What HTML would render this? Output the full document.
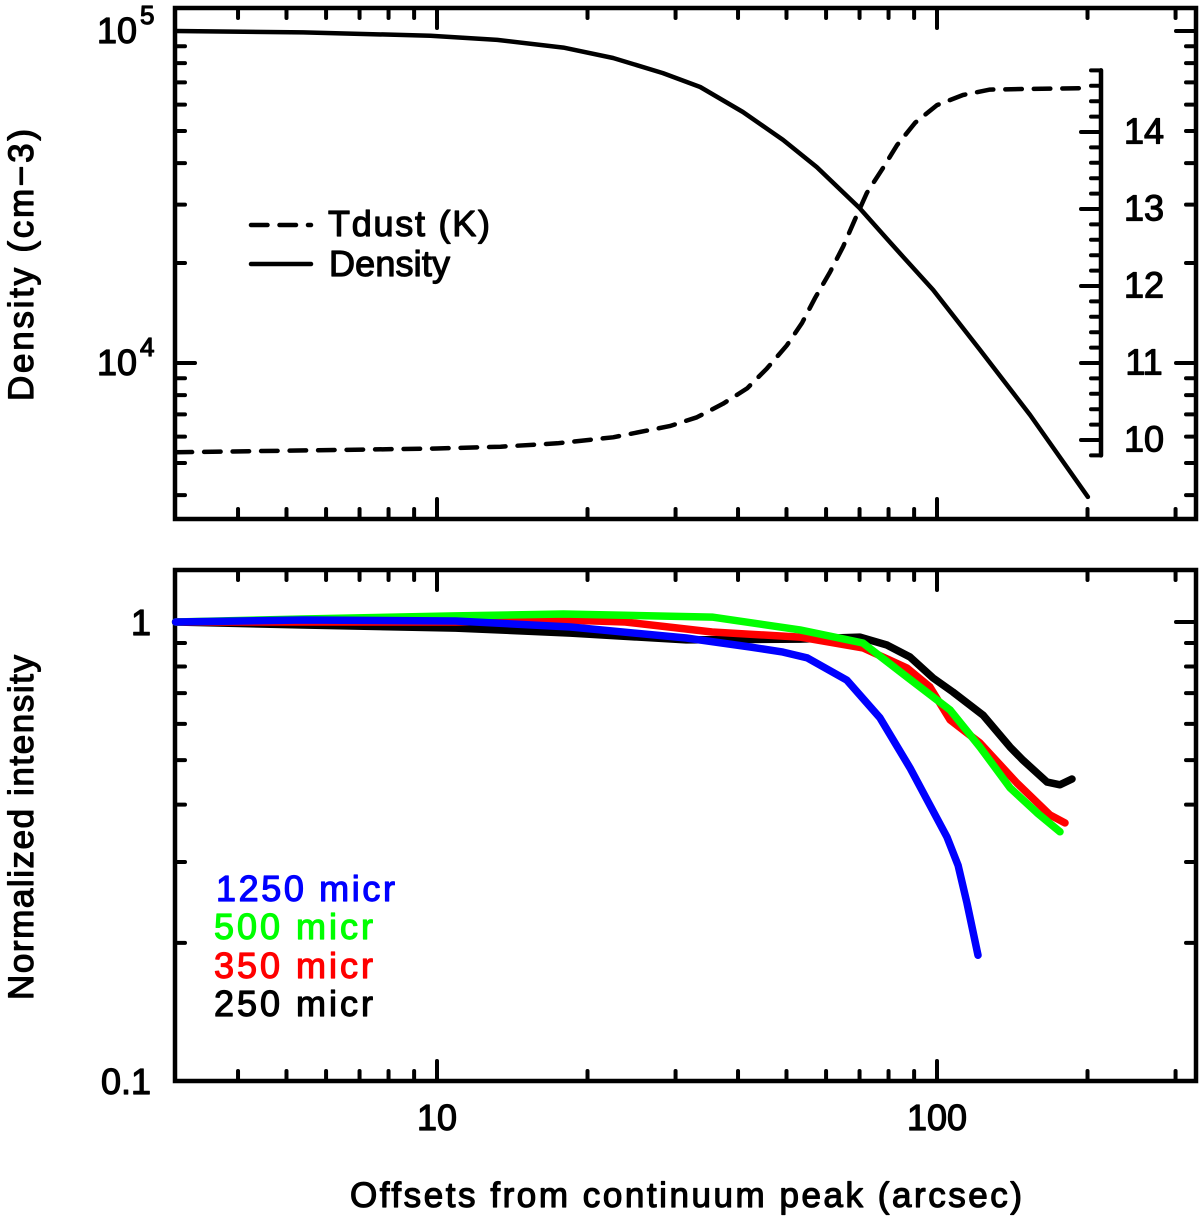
<!DOCTYPE html>
<html lang="en">
<head>
<meta charset="utf-8">
<title>Density, dust temperature and normalized intensity profiles</title>
<style>
html,body{margin:0;padding:0;background:#fff;}
svg{display:block;}
text{font-family:"Liberation Sans","DejaVu Sans",sans-serif;stroke-width:1.2px;stroke-linejoin:round;}
</style>
</head>
<body>
<svg id="chart" xmlns="http://www.w3.org/2000/svg" width="1200" height="1218" viewBox="0 0 1200 1218"></svg>
<script>
// ---- Upper panel data ----
const densityOffsets = [3, 5.4, 9.7, 13.2, 17.9, 22.5, 28.3, 33.6, 40.9, 49.2, 57.5, 70, 84.3, 98.2, 121.9, 153.5, 200.4];
const densityValues = [100000, 99000, 96800, 94000, 89100, 82900, 74700, 67800, 57000, 47000, 38900, 29300, 21400, 16600, 10950, 6970, 3950];
const tdustOffsets = [3, 10, 13.4, 17.4, 22.5, 29.2, 33.1, 37.3, 41.7, 45.7, 50.1, 53.7, 57, 61.1, 64.9, 68.5, 72.4, 77.6, 83.2, 90.4, 100, 112.7, 127.6, 153.5, 200.4];
const tdustValues = [9.84, 9.89, 9.913, 9.957, 10.035, 10.18, 10.295, 10.47, 10.67, 10.93, 11.23, 11.52, 11.84, 12.18, 12.51, 12.86, 13.21, 13.51, 13.83, 14.12, 14.35, 14.48, 14.55, 14.56, 14.57];
const densityMajorTicks = [100000, 10000];
const densityMinorTicks = [90000, 80000, 70000, 60000, 50000, 40000, 30000, 20000, 9000, 8000, 7000, 6000, 5000, 4000];
const densityTickLabels = [["10", "5"], ["10", "4"]];
const tdustMajorTicks = [10, 11, 12, 13, 14];
const tdustMinorTicks = [9.8, 10.2, 10.4, 10.6, 10.8, 11.2, 11.4, 11.6, 11.8, 12.2, 12.4, 12.6, 12.8, 13.2, 13.4, 13.6, 13.8, 14.2, 14.4, 14.6, 14.8];

// ---- Lower panel data ----
const offsetMajorTicks = [10, 100];
const offsetMinorTicks = [4, 5, 6, 7, 8, 9, 20, 30, 40, 50, 60, 70, 80, 90, 200, 300];
const intensityMajorTicks = [1, 0.1];
const intensityMinorTicks = [0.9, 0.8, 0.7, 0.6, 0.5, 0.4, 0.3, 0.2];
const intensityTickLabels = ["1", "0.1"];

const offsets250 = [3, 5.4, 10.9, 18.5, 31.5, 53.2, 70.1, 79.4, 88.3, 98.2, 107.6, 123.6, 140, 148.6, 166, 176.2, 186.2];
const values250 = [1, 0.985, 0.97, 0.946, 0.914, 0.918, 0.927, 0.891, 0.839, 0.755, 0.704, 0.627, 0.534, 0.5, 0.448, 0.442, 0.455];
const offsets350 = [3, 5.4, 10.9, 17.9, 23.8, 35.5, 53.2, 71.1, 87.1, 96.8, 106.2, 121.9, 144.5, 168.3, 180.3];
const values350 = [1, 1.0, 1.0, 1.01, 1.0, 0.951, 0.927, 0.878, 0.794, 0.722, 0.612, 0.545, 0.446, 0.38, 0.365];
const offsets500 = [3, 5.4, 10.9, 17.9, 35.5, 53.2, 71.1, 87.1, 106.2, 121.9, 140, 158.5, 176.2];
const values500 = [1, 1.015, 1.031, 1.041, 1.025, 0.961, 0.9, 0.759, 0.643, 0.534, 0.435, 0.384, 0.349];
const offsets1250 = [3, 5.4, 10.9, 18.5, 31.5, 42.3, 49.2, 55, 66, 76.9, 88.3, 104.7, 110.2, 114.8, 120.8];
const values1250 = [1, 1.01, 1.005, 0.975, 0.923, 0.882, 0.86, 0.835, 0.747, 0.618, 0.481, 0.34, 0.295, 0.244, 0.188];

const intensityLegend = ["1250 micr", "500 micr", "350 micr", "250 micr"];

// ---- Axis functions ----
const svg = document.getElementById('chart');
const NS = 'http://www.w3.org/2000/svg';
const xScale = v => 437 + (Math.log10(v) - 1) * 500;
const yDensity = v => 363 - (Math.log10(v) - 4) * 332;
const yTdust = v => 440 - (v - 10) * 77;
const yIntensity = v => 622 - Math.log10(v) * 459;

function line(x1, y1, x2, y2, w) {
  const el = document.createElementNS(NS, 'line');
  el.setAttribute('x1', x1);
  el.setAttribute('y1', y1);
  el.setAttribute('x2', x2);
  el.setAttribute('y2', y2);
  el.setAttribute('stroke', '#000');
  el.setAttribute('stroke-width', w);
  el.setAttribute('stroke-linecap', 'round');
  svg.appendChild(el);
  return el;
}
function text(str, x, y, size, opts) {
  const o = opts || {};
  const el = document.createElementNS(NS, 'text');
  el.setAttribute('x', x);
  el.setAttribute('y', y);
  el.setAttribute('font-size', size);
  el.setAttribute('fill', o.fill || '#000');
  el.setAttribute('stroke', o.fill || '#000');
  el.setAttribute('text-anchor', o.anchor || 'start');
  el.setAttribute('xml:space', 'preserve');
  if (o.length) {
    el.setAttribute('textLength', o.length);
    el.setAttribute('lengthAdjust', 'spacing');
  }
  if (o.rotate) el.setAttribute('transform', 'rotate(-90 ' + x + ' ' + y + ')');
  el.textContent = str;
  svg.appendChild(el);
  return el;
}
function curve(xs, ys, sx, sy, color, w, dash) {
  const el = document.createElementNS(NS, 'polyline');
  el.setAttribute('points', xs.map((v, i) => sx(v).toFixed(1) + ',' + sy(ys[i]).toFixed(1)).join(' '));
  el.setAttribute('fill', 'none');
  el.setAttribute('stroke', color);
  el.setAttribute('stroke-width', w);
  el.setAttribute('stroke-linejoin', 'round');
  el.setAttribute('stroke-linecap', 'round');
  if (dash) el.setAttribute('stroke-dasharray', dash);
  svg.appendChild(el);
  return el;
}
function frame(top, bottom) {
  const el = document.createElementNS(NS, 'rect');
  el.setAttribute('x', 175);
  el.setAttribute('y', top);
  el.setAttribute('width', 1021);
  el.setAttribute('height', bottom - top);
  el.setAttribute('fill', 'none');
  el.setAttribute('stroke', '#000');
  el.setAttribute('stroke-width', 4.5);
  svg.appendChild(el);
  return el;
}
function xTicks(top, bottom, panel) {
  offsetMajorTicks.forEach(v => {
    const a = line(xScale(v), bottom, xScale(v), bottom - 20, 4);
    
    
    const b = line(xScale(v), top, xScale(v), top + 20, 4);
    
    
  });
  offsetMinorTicks.forEach(v => {
    const a = line(xScale(v), bottom, xScale(v), bottom - 10, 4);
    
    
    const b = line(xScale(v), top, xScale(v), top + 10, 4);
    
    
  });
}
function yTicks(majors, minors, sy, panel) {
  majors.forEach(v => {
    const a = line(175, sy(v), 195, sy(v), 4);
    
    
    const b = line(1196, sy(v), 1176, sy(v), 4);
    
    
  });
  minors.forEach(v => {
    const a = line(175, sy(v), 185, sy(v), 4);
    
    
    const b = line(1196, sy(v), 1186, sy(v), 4);
    
    
  });
}

// ---- Upper panel ----
const frameTop = frame(8, 519);


xTicks(8, 519, 'density');
yTicks(densityMajorTicks, densityMinorTicks, yDensity, 'density');

densityMajorTicks.forEach((v, i) => {
  const base = text(densityTickLabels[i][0], 137, yDensity(v) + 12, 36, {anchor: 'end'});
  
  
  const sup = text(densityTickLabels[i][1], 140, yDensity(v) - 7, 26);
  
  
});

const tAxis = line(1101, yTdust(14.8), 1101, yTdust(9.8), 4.5);


tdustMajorTicks.forEach(v => {
  const t = line(1101, yTdust(v), 1081, yTdust(v), 4);
  
  
  const l = text(String(v), 1144, yTdust(v) + 11.5, 36, {anchor: 'middle'});
  
  
});
tdustMinorTicks.forEach(v => {
  const t = line(1101, yTdust(v), 1091, yTdust(v), 4);
  
  
});

const densityLine = curve(densityOffsets, densityValues, xScale, yDensity, '#000', 4.5);


const tdustLine = curve(tdustOffsets, tdustValues, xScale, yTdust, '#000', 4.5, '16.5 12');



const yTitleTop = text('Density  (cm\u22123)', 33, 401, 35, {rotate: true, length: 272});



const legendDash = line(251, 225, 311, 225, 4.5);
legendDash.setAttribute('stroke-dasharray', '16.5 12');


const legendSolid = line(251, 264, 311, 264, 4.5);


const legendT = text('Tdust  (K)', 328, 236, 36, {length: 162});


const legendD = text('Density', 329, 276, 36, {length: 121});



// ---- Lower panel ----
const frameBottom = frame(570, 1081);


xTicks(570, 1081, 'intensity');
yTicks(intensityMajorTicks, intensityMinorTicks, yIntensity, 'intensity');

intensityMajorTicks.forEach((v, i) => {
  const l = text(intensityTickLabels[i], 151, yIntensity(v) + 13, 36, {anchor: 'end'});
  
  
});
offsetMajorTicks.forEach(v => {
  const l = text(String(v), xScale(v), 1130, 36, {anchor: 'middle'});
  
  
});

const s250 = curve(offsets250, values250, xScale, yIntensity, '#000000', 7.5);


const s350 = curve(offsets350, values350, xScale, yIntensity, '#ff0000', 7.5);


const s500 = curve(offsets500, values500, xScale, yIntensity, '#00ff00', 7.5);


const s1250 = curve(offsets1250, values1250, xScale, yIntensity, '#0000ff', 7.5);



const leg1250 = text(intensityLegend[0], 216, 901, 36, {fill: '#0000ff', length: 179});


const leg500 = text(intensityLegend[1], 214, 939, 36, {fill: '#00ff00', length: 159});


const leg350 = text(intensityLegend[2], 214, 978, 36, {fill: '#ff0000', length: 159});


const leg250 = text(intensityLegend[3], 214, 1016, 36, {fill: '#000000', length: 159});



const yTitleBottom = text('Normalized intensity', 33, 1000, 35, {rotate: true, length: 345});


const xTitle = text('Offsets  from  continuum  peak  (arcsec)', 350, 1207, 35, {length: 672});


</script>
</body>
</html>
